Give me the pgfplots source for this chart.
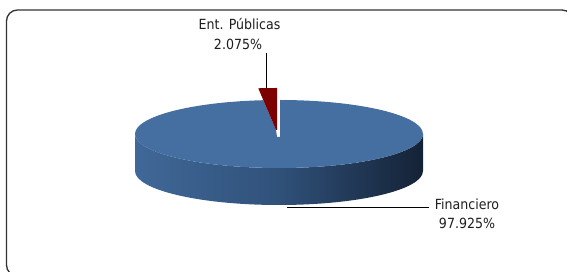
\documentclass[border=0pt]{standalone}
\usepackage{pgfplots}
\pgfplotsset{compat=1.18}
\usepackage{pgfplotstable}
\usetikzlibrary{calc}
\usepackage{fontspec}
\setmainfont{DejaVu Sans Condensed}
\definecolor{pietop}{RGB}{68,111,160}
\definecolor{sideL}{RGB}{64,104,152}
\definecolor{sideM}{RGB}{48,81,122}
\definecolor{sideR}{RGB}{20,34,54}
\definecolor{piered}{RGB}{125,0,0}
\definecolor{txt}{RGB}{30,30,30}
\pgfplotstableread[col sep=comma]{
name,value
Financiero,97.925
Ent. Públicas,2.075
}\piedata
\begin{document}
\begin{tikzpicture}
\pgfplotstablegetelem{0}{value}\of\piedata \let\vFin\pgfplotsretval
\pgfplotstablegetelem{1}{value}\of\piedata \let\vEnt\pgfplotsretval
\pgfmathsetmacro\redend{90+3.6*\vEnt}
\pgfmathsetmacro\bluestart{89.6}
\pgfmathsetmacro\blueend{90-3.6*\vFin-1.2}
\begin{axis}[name=pie, scale only axis, width=567pt, height=272pt,
  xmin=0, xmax=567, ymin=0, ymax=272, axis lines=none, clip=false]
% side of the pie
\shade[left color=sideL, right color=sideR, middle color=sideM]
  (axis cs:135,138) -- (axis cs:135,101)
  arc[start angle=180, end angle=360, x radius=144pt, y radius=34pt]
  -- (axis cs:423,138)
  arc[start angle=0, end angle=-180, x radius=144pt, y radius=34pt] -- cycle;
% top of the blue slice
\fill[pietop] (axis cs:280,135) -- ($(axis cs:279,138)+(\bluestart:144pt and 34pt)$)
  arc[start angle=\bluestart, end angle=\blueend, x radius=144pt, y radius=34pt]
  -- (axis cs:276,142) -- (axis cs:277,135) -- cycle;
% exploded red slice
\fill[piered] (axis cs:277,184)
  arc[start angle=90, end angle=\redend, x radius=144pt, y radius=34pt]
  -- (axis cs:276,142) -- (axis cs:277,142) -- cycle;
% leader lines
\draw[black, line width=0.8pt] (axis cs:266.7,219) -- (axis cs:266.7,184);
\draw[black, line width=0.8pt] (axis cs:287,64.5) -- (axis cs:429,64.5);
% labels
\node[anchor=base, text=txt, inner sep=0pt, font=\fontsize{14}{16}\selectfont] at (axis cs:239.5,242.5) {Ent. Públicas};
\node[anchor=base, text=txt, inner sep=0pt, font=\fontsize{14}{16}\selectfont] at (axis cs:238,222) {\vEnt\%};
\node[anchor=base, text=txt, inner sep=0pt, font=\fontsize{14}{16}\selectfont] at (axis cs:467,62) {Financiero};
\node[anchor=base, text=txt, inner sep=0pt, font=\fontsize{14}{16}\selectfont] at (axis cs:467,43) {\vFin\%};
% frame
\draw[rounded corners=11pt, line width=1.3pt, black!80] (axis cs:6.5,-4) rectangle (axis cs:573,262);
\end{axis}
\pgfresetboundingbox
\useasboundingbox (pie.south west) rectangle (pie.north east);
\end{tikzpicture}
\end{document}
